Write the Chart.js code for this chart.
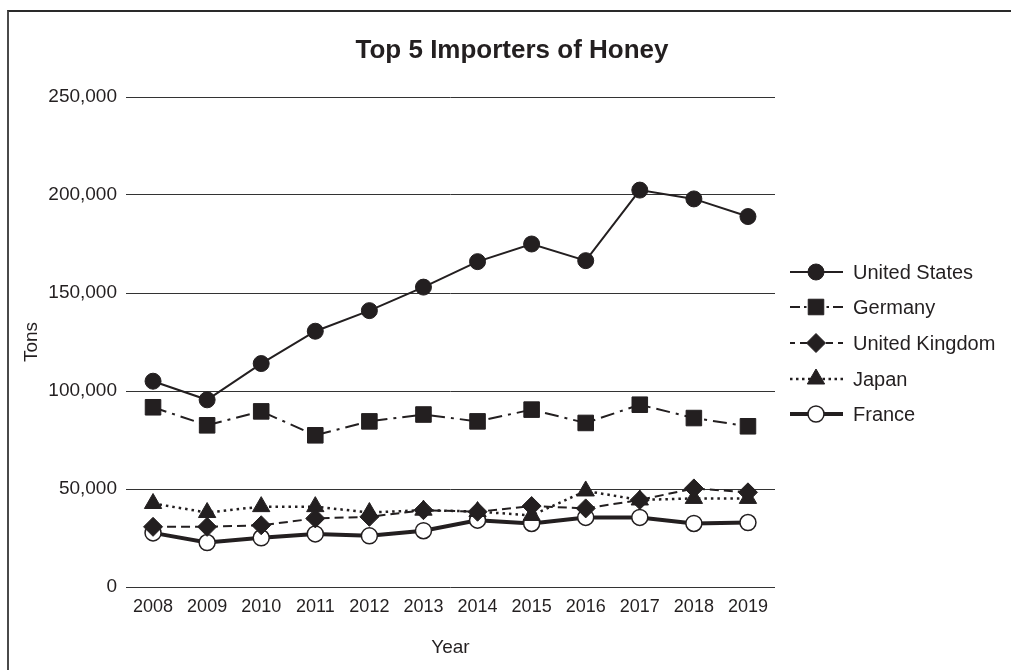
<!DOCTYPE html>
<html>
<head>
<meta charset="utf-8">
<script src="https://cdn.jsdelivr.net/npm/chart.js@4"></script>
<style>
  body { margin: 0; background: #fff; overflow: hidden; }
  #frame { position: absolute; left: 7px; top: 10px; width: 1020px; height: 680px;
           border-left: 2px solid #4a4a4a; border-top: 2px solid #2a2a2a; }
  #honeyChart { position: absolute; left: 0; top: 0; }
</style>
</head>
<body>
<div id="frame"></div>
<canvas id="honeyChart" width="1011" height="670"></canvas>
<script>
// values (tons)
const years = ['2008', '2009', '2010', '2011', '2012', '2013', '2014', '2015', '2016', '2017', '2018', '2019'];
const unitedStates = [105000, 95500, 114000, 130500, 141000, 153000, 166000, 175000, 166500, 202500, 198000, 189000];
const germany = [91700, 82500, 89600, 77400, 84500, 88000, 84500, 90500, 83700, 93000, 86200, 82000];
const unitedKingdom = [30700, 30700, 31500, 35000, 35800, 39200, 38400, 41300, 40100, 44400, 50300, 48300];
const japan = [42600, 38000, 41000, 41000, 38000, 39200, 38500, 36500, 49000, 44400, 45200, 45200];
const france = [27600, 22700, 25100, 27100, 26100, 28700, 34100, 32400, 35500, 35500, 32400, 32900];
const yTicks = [0, 50000, 100000, 150000, 200000, 250000];

const ink = '#231f20';
const font = 'Liberation Sans, Arial, Helvetica, sans-serif';

// title + legend drawn by hand so they sit where the original has them
const honeyDecor = {
    id: 'honeyDecor',
    afterDraw(chart) {
        const ctx = chart.ctx;
        ctx.save();
        ctx.fillStyle = ink;
        ctx.font = 'bold 26px ' + font;
        ctx.textAlign = 'center';
        ctx.textBaseline = 'middle';
        ctx.fillText('Top 5 Importers of Honey', 512, 51);

        const rows = [272, 307, 343, 379, 414];
        const mid = 816;
        chart.data.datasets.forEach((ds, i) => {
            const y = rows[i];
            ctx.save();
            ctx.strokeStyle = ds.borderColor;
            ctx.lineWidth = ds.borderWidth;
            ctx.setLineDash(ds.legendDash || []);
            // each half drawn from the outer end inwards so the pattern is mirrored
            [790, 843].forEach(x0 => {
                ctx.beginPath();
                ctx.moveTo(x0, y);
                ctx.lineTo(mid, y);
                ctx.stroke();
            });
            ctx.setLineDash([]);
            ctx.fillStyle = ds.pointBackgroundColor;
            ctx.strokeStyle = ds.pointBorderColor;
            ctx.lineWidth = ds.pointBorderWidth;
            Chart.helpers.drawPoint(ctx, {
                pointStyle: ds.pointStyle,
                radius: ds.pointRadius,
                rotation: 0,
                borderWidth: ds.pointBorderWidth
            }, mid, y);
            ctx.restore();
            ctx.fillStyle = ink;
            ctx.font = '20px ' + font;
            ctx.textAlign = 'left';
            ctx.textBaseline = 'middle';
            ctx.fillText(ds.label, 853, y + 1);
        });
        ctx.restore();
    }
};

function series(label, data, extra) {
    return Object.assign({
        label: label,
        data: data,
        borderColor: ink,
        borderWidth: 2,
        borderDash: [],
        pointBackgroundColor: ink,
        pointBorderColor: ink,
        pointBorderWidth: 1,
        pointRadius: 8,
        pointHoverRadius: 8,
        tension: 0,
        fill: false
    }, extra);
}

new Chart(document.getElementById('honeyChart'), {
    type: 'line',
    data: {
        labels: years,
        datasets: [
            series('United States', unitedStates, { pointStyle: 'circle', pointRadius: 8 }),
            series('Germany', germany, { pointStyle: 'rect', pointRadius: 11,
                borderDash: [14, 6, 3, 6], legendDash: [10, 4, 2.5, 20] }),
            series('United Kingdom', unitedKingdom, { pointStyle: 'rectRot', pointRadius: 9.5,
                borderDash: [9, 5], legendDash: [5, 5, 7, 20] }),
            series('Japan', japan, { pointStyle: 'triangle', pointRadius: 10, borderWidth: 2.5,
                borderDash: [2.5, 4], legendDash: [2.5, 3.5] }),
            series('France', france, { pointStyle: 'circle', pointRadius: 8, borderWidth: 4,
                pointBackgroundColor: '#ffffff', pointBorderWidth: 1.5 })
        ]
    },
    options: {
        responsive: false,
        animation: false,
        layout: { padding: { top: 97, right: 236, left: 14, bottom: 0 } },
        plugins: {
            legend: { display: false },
            title: { display: false },
            tooltip: { enabled: false }
        },
        scales: {
            x: {
                offset: true,
                grid: { display: false, drawTicks: false },
                border: { display: false },
                ticks: { color: ink, font: { family: font, size: 18 }, padding: 9, maxRotation: 0 },
                title: { display: true, text: 'Year', color: ink, font: { family: font, size: 19 },
                         padding: { top: 0, bottom: 11 } },
                afterFit(scale) { scale.height = 83; }
            },
            y: {
                min: 0,
                max: 250000,
                afterBuildTicks(scale) { scale.ticks = yTicks.map(v => ({ value: v })); },
                grid: { color: '#333333', lineWidth: 1, drawTicks: false },
                border: { display: false },
                ticks: {
                    color: ink,
                    font: { family: font, size: 19 },
                    padding: 9,
                    callback: v => v.toLocaleString('en-US')
                },
                title: { display: true, text: 'Tons', color: ink, font: { family: font, size: 19 },
                         padding: { top: 6, bottom: 0 } },
                afterFit(scale) { scale.width = 112; }
            }
        }
    },
    plugins: [honeyDecor]
});
</script>
</body>
</html>
